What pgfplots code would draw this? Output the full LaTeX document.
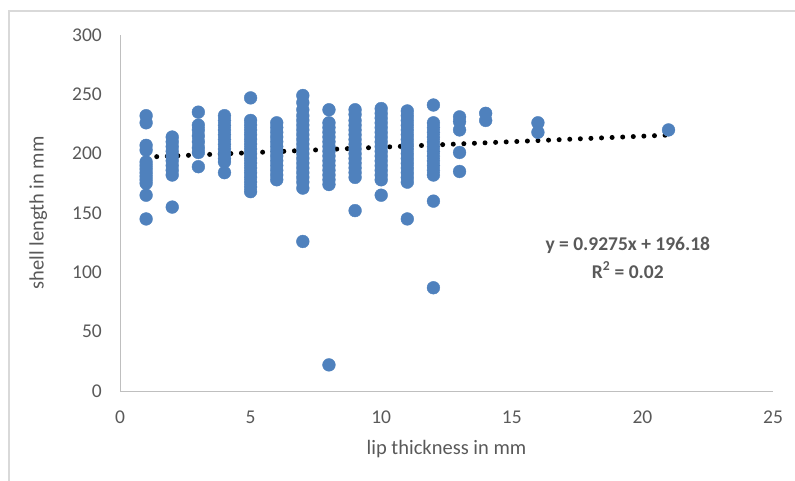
\documentclass[border=0pt]{standalone}
\usepackage{pgfplots}
\pgfplotsset{compat=1.18}
\usepackage{fontspec}
\setmainfont{Carlito}
\definecolor{ptblue}{HTML}{4F81BD}
\definecolor{txtgrey}{HTML}{595959}
\definecolor{axgrey}{HTML}{BFBFBF}
\definecolor{bordergrey}{HTML}{D9D9D9}
\begin{document}
\begin{tikzpicture}
\path[use as bounding box] (0,0) rectangle (795bp,481bp);
\draw[bordergrey, line width=1.5bp] (9bp,0) -- (9bp,470bp) -- (795bp,470bp);
\begin{axis}[
  at={(120bp,90bp)}, anchor=south west,
  scale only axis, width=653bp, height=356bp,
  xmin=0, xmax=25, ymin=0, ymax=300,
  xtick={0,5,10,15,20,25}, ytick={0,50,100,150,200,250,300},
  axis x line*=bottom, axis y line*=left,
  axis line style={axgrey, line width=1bp, -},
  major tick length=0pt,
  /pgf/number format/assume math mode=true,
  tick label style={font=\fontsize{19.5bp}{23bp}\selectfont, text=txtgrey},
  xticklabel style={anchor=center, yshift=-26bp},
  yticklabel style={anchor=east, inner sep=0pt, xshift=-18bp},
  label style={font=\fontsize{20.5bp}{24bp}\selectfont, text=txtgrey},
  xlabel={lip thickness in mm},
  ylabel={shell length in mm},
  xlabel style={at={(rel axis cs:0.5,-0.163)}, anchor=center},
  ylabel style={at={(rel axis cs:-0.125,0.5)}, anchor=center},
  clip=false,
]
\addplot[only marks, mark=*, mark size=6.4bp, mark options={draw=ptblue, fill=ptblue}] coordinates {
(1,232) (1,226) (1,207) (1,203) (1,193) (1,190) (1,187) (1,184) (1,181) (1,178) (1,175) (1,165) (1,145)
(2,214) (2,210) (2,206) (2,202) (2,198) (2,194) (2,190) (2,186) (2,182) (2,155)
(3,235) (3,224) (3,220) (3,215) (3,210) (3,205) (3,201) (3,189)
(4,232) (4,228) (4,224) (4,220) (4,216) (4,212) (4,208) (4,204) (4,200) (4,196) (4,193) (4,184)
(5,247) (5,228) (5,224) (5,220) (5,216) (5,212) (5,208) (5,204) (5,200) (5,196) (5,192) (5,188) (5,184) (5,180) (5,176) (5,172) (5,168)
(6,226) (6,222) (6,218) (6,214) (6,210) (6,206) (6,202) (6,198) (6,194) (6,190) (6,186) (6,182) (6,178)
(7,249) (7,243) (7,237) (7,232) (7,228) (7,224) (7,220) (7,216) (7,212) (7,208) (7,204) (7,200) (7,196) (7,192) (7,188) (7,184) (7,180) (7,176) (7,171) (7,126)
(8,237) (8,226) (8,222) (8,218) (8,214) (8,210) (8,206) (8,202) (8,198) (8,194) (8,190) (8,186) (8,182) (8,178) (8,174) (8,22)
(9,237) (9,233) (9,228) (9,224) (9,220) (9,216) (9,212) (9,208) (9,204) (9,200) (9,196) (9,192) (9,188) (9,184) (9,180) (9,152)
(10,238) (10,234) (10,230) (10,226) (10,222) (10,218) (10,214) (10,210) (10,206) (10,202) (10,198) (10,194) (10,190) (10,186) (10,182) (10,178) (10,165)
(11,236) (11,232) (11,228) (11,224) (11,220) (11,216) (11,212) (11,208) (11,204) (11,200) (11,196) (11,192) (11,188) (11,184) (11,180) (11,176) (11,145)
(12,241) (12,226) (12,222) (12,218) (12,214) (12,210) (12,206) (12,202) (12,198) (12,194) (12,190) (12,186) (12,182) (12,160) (12,87)
(13,231) (13,227) (13,220) (13,201) (13,185)
(14,234) (14,228)
(16,226) (16,218)
(21,220)
};
\addplot[black, line width=5bp, line cap=round, dash pattern=on 0bp off 10.6bp] coordinates {(1,197.11) (21,215.66)};
\node[font=\bfseries\fontsize{19.5bp}{23bp}\selectfont, text=txtgrey] at (axis cs:19.44,123) {y = 0.9275x + 196.18};
\node[font=\bfseries\fontsize{19.5bp}{23bp}\selectfont, text=txtgrey] at (axis cs:19.44,102) {R\textsuperscript{2} = 0.02};
\end{axis}
\end{tikzpicture}
\end{document}
